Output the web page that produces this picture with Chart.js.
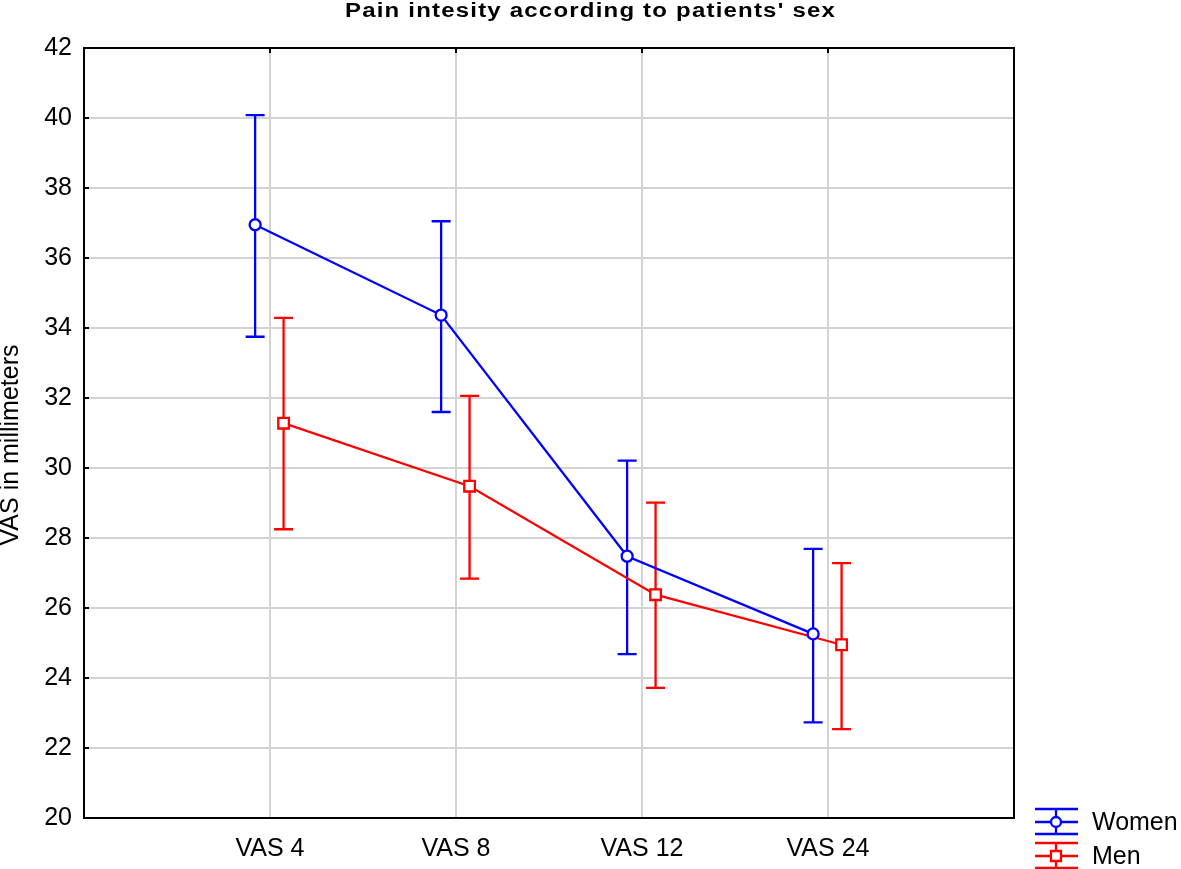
<!DOCTYPE html>
<html>
<head>
<meta charset="utf-8">
<script src="https://cdn.jsdelivr.net/npm/chart.js@4"></script>
<style>
  html, body { margin: 0; padding: 0; background: #fff; }
  canvas { display: block; }
</style>
</head>
<body>
<canvas id="chart" width="1181" height="869"></canvas>
<script>
// --- Data ---
const categories = ['VAS 4', 'VAS 8', 'VAS 12', 'VAS 24'];
const womenMean  = [36.95, 34.37, 27.48, 25.26];
const womenUpper = [40.08, 37.05, 30.21, 27.69];
const womenLower = [33.75, 31.60, 24.68, 22.73];
const menMean    = [31.28, 29.48, 26.38, 24.95];
const menUpper   = [34.29, 32.06, 29.01, 27.28];
const menLower   = [28.25, 26.84, 23.72, 22.54];
const yTicks     = [20, 22, 24, 26, 28, 30, 32, 34, 36, 38, 40, 42];

const chartTitle = "Pain intesity according to patients' sex";
const yTitle = 'VAS in millimeters';

// horizontal nudge of each series from the category position (style only)
const womenShift = -0.08;
const menShift = 0.073;

const FONT = "'Liberation Sans', Arial, sans-serif";
const BLUE = '#0000ff';
const RED = '#ff0000';

const toPoints = (vals, shift) => vals.map((v, i) => ({ x: i + 1 + shift, y: v }));

// --- Error bars, frame, title, legend ---
const decorPlugin = {
    id: 'decor',
    beforeDatasetsDraw(chart) {
        const { ctx, chartArea: a, scales } = chart;
        ctx.save();
        // inward tick marks on top and left border
        ctx.strokeStyle = '#000';
        ctx.lineWidth = 2;
        categories.forEach((c, i) => {
            const x = scales.x.getPixelForValue(i + 1);
            ctx.beginPath(); ctx.moveTo(x, a.top); ctx.lineTo(x, a.top + 5); ctx.stroke();
        });
        yTicks.forEach(v => {
            const y = scales.y.getPixelForValue(v);
            ctx.beginPath(); ctx.moveTo(a.left, y); ctx.lineTo(a.left + 5, y); ctx.stroke();
        });
        // frame
        ctx.strokeRect(a.left, a.top, a.right - a.left, a.bottom - a.top);

        // error bars
        chart.data.datasets.forEach(ds => {
            ctx.strokeStyle = ds.borderColor;
            ctx.lineWidth = 2.3;
            ds.data.forEach((p, i) => {
                const x = scales.x.getPixelForValue(p.x);
                const yHi = scales.y.getPixelForValue(ds.upper[i]);
                const yLo = scales.y.getPixelForValue(ds.lower[i]);
                ctx.beginPath();
                ctx.moveTo(x, yHi); ctx.lineTo(x, yLo);
                ctx.moveTo(x - 9.5, yHi); ctx.lineTo(x + 9.5, yHi);
                ctx.moveTo(x - 9.5, yLo); ctx.lineTo(x + 9.5, yLo);
                ctx.stroke();
            });
        });
        ctx.restore();
    },
    afterDraw(chart) {
        const { ctx } = chart;
        ctx.save();
        // title (wide, spaced bold type as in the source)
        ctx.fillStyle = '#000';
        ctx.font = 'bold 20px ' + FONT;
        ctx.letterSpacing = '1px';
        ctx.textAlign = 'center';
        ctx.textBaseline = 'middle';
        ctx.translate(chart.width / 2, 11);
        ctx.scale(1.2, 1);
        ctx.fillText(chartTitle, 0, 0);
        ctx.restore();

        // y axis title
        ctx.save();
        ctx.fillStyle = '#000';
        ctx.font = '25px ' + FONT;
        ctx.textAlign = 'center';
        ctx.textBaseline = 'middle';
        ctx.translate(11, 445);
        ctx.rotate(-Math.PI / 2);
        ctx.fillText(yTitle, 0, 0);
        ctx.restore();

        // legend
        ctx.save();
        const rows = [822, 856];
        chart.data.datasets.forEach((ds, k) => {
            const cy = rows[k];
            const cx = 1056;
            ctx.strokeStyle = ds.borderColor;
            ctx.lineWidth = 2.3;
            ctx.beginPath();
            ctx.moveTo(1035, cy - 13); ctx.lineTo(1078, cy - 13);
            ctx.moveTo(1035, cy); ctx.lineTo(1078, cy);
            ctx.moveTo(1035, cy + 12); ctx.lineTo(1078, cy + 12);
            ctx.moveTo(cx, cy - 13); ctx.lineTo(cx, cy + 12);
            ctx.stroke();
            ctx.fillStyle = '#fff';
            ctx.beginPath();
            if (ds.pointStyle === 'circle') {
                ctx.arc(cx, cy, 5, 0, Math.PI * 2);
            } else {
                ctx.rect(cx - 5, cy - 5, 10, 10);
            }
            ctx.fill();
            ctx.stroke();
            ctx.fillStyle = '#000';
            ctx.font = '25px ' + FONT;
            ctx.textAlign = 'left';
            ctx.textBaseline = 'middle';
            ctx.fillText(ds.label, 1092, cy + 1);
        });
        ctx.restore();
    }
};

new Chart(document.getElementById('chart'), {
    type: 'line',
    data: {
        datasets: [
            {
                label: 'Women', data: toPoints(womenMean, womenShift),
                upper: womenUpper, lower: womenLower,
                borderColor: BLUE, backgroundColor: '#fff', borderWidth: 2.3,
                pointStyle: 'circle', pointRadius: 5.5, pointBorderWidth: 2.3, tension: 0
            },
            {
                label: 'Men', data: toPoints(menMean, menShift),
                upper: menUpper, lower: menLower,
                borderColor: RED, backgroundColor: '#fff', borderWidth: 2.3,
                pointStyle: 'rect', pointRadius: 7.5, pointBorderWidth: 2.3, tension: 0
            }
        ]
    },
    options: {
        responsive: false,
        animation: false,
        devicePixelRatio: 1,
        layout: { padding: { top: 48, right: 167, left: 0, bottom: 0 } },
        plugins: {
            legend: { display: false },
            title: { display: false },
            tooltip: { enabled: false }
        },
        scales: {
            x: {
                type: 'linear', min: 0, max: 5,
                afterFit: s => { s.height = 51; },
                afterBuildTicks: s => { s.ticks = [0, 1, 2, 3, 4, 5].map(v => ({ value: v })); },
                ticks: {
                    callback: v => categories[v - 1] || '',
                    color: '#000', font: { family: FONT, size: 25 }, padding: 16,
                    maxRotation: 0, autoSkip: false
                },
                grid: { color: '#d3d3d3', lineWidth: 2, drawTicks: false },
                border: { display: false }
            },
            y: {
                min: 20, max: 42,
                afterFit: s => { s.width = 84; },
                afterBuildTicks: s => { s.ticks = yTicks.map(v => ({ value: v })); },
                ticks: {
                    color: '#000', font: { family: FONT, size: 25 }, padding: 12
                },
                grid: { color: '#d3d3d3', lineWidth: 2, drawTicks: false },
                border: { display: false }
            }
        }
    },
    plugins: [decorPlugin]
});
</script>
</body>
</html>
